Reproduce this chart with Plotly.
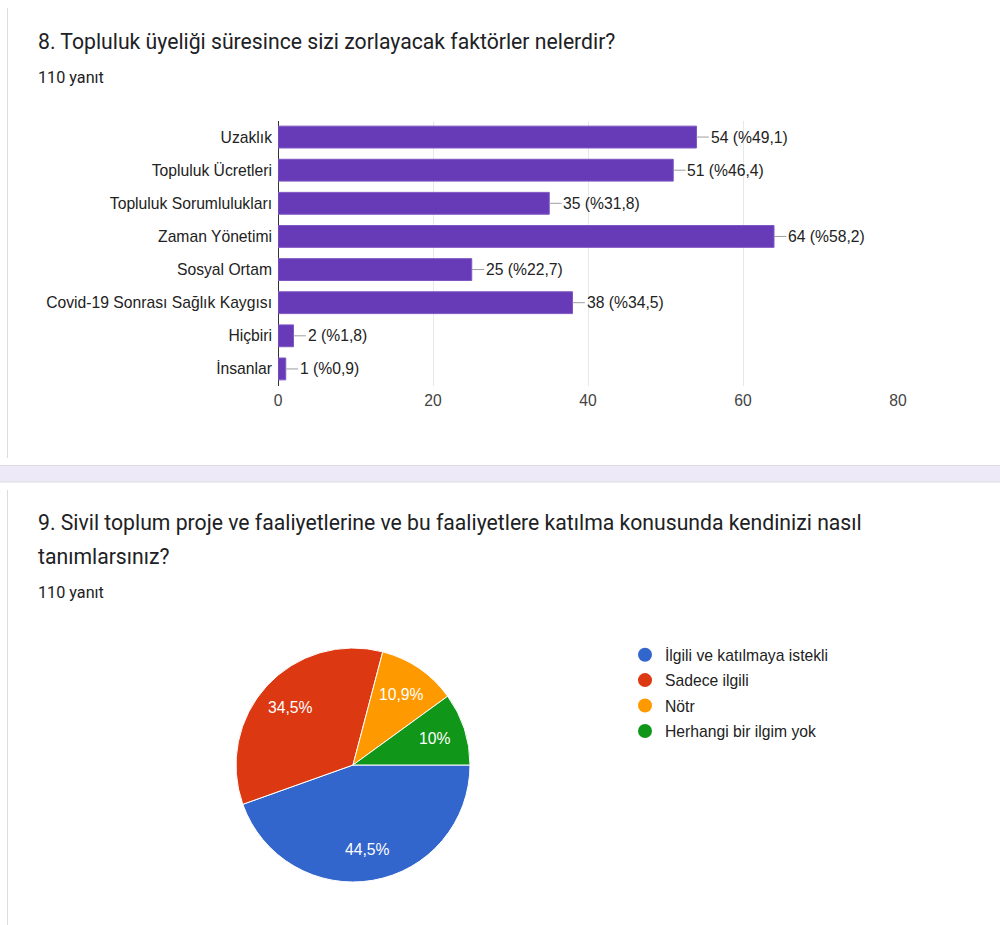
import math
import plotly.graph_objects as go

# ---- Data: question 8 (bar chart) ----
bar_categories = ["Uzaklık", "Topluluk Ücretleri", "Topluluk Sorumlulukları", "Zaman Yönetimi",
                  "Sosyal Ortam", "Covid-19 Sonrası Sağlık Kaygısı", "Hiçbiri", "İnsanlar"]
bar_values = [54, 51, 35, 64, 25, 38, 2, 1]
bar_percent_labels = ["%49,1", "%46,4", "%31,8", "%58,2", "%22,7", "%34,5", "%1,8", "%0,9"]
x_tick_values = [0, 20, 40, 60, 80]

# ---- Data: question 9 (pie chart) ----
pie_labels = ["İlgili ve katılmaya istekli", "Sadece ilgili", "Nötr", "Herhangi bir ilgim yok"]
pie_values = [49, 38, 12, 11]
pie_text = ["44,5%", "34,5%", "10,9%", "10%"]
pie_colors = ["#3366cc", "#dc3912", "#ff9900", "#109618"]

title8 = "8. Topluluk üyeliği süresince sizi zorlayacak faktörler nelerdir?"
title9_lines = ["9. Sivil toplum proje ve faaliyetlerine ve bu faaliyetlere katılma konusunda kendinizi nasıl",
                "tanımlarsınız?"]
responses = "110 yanıt"

W, H = 1000, 925
def py(p):
    return 1 - p / H

CHART_FONT = "Liberation Sans, Arial"
CF = 15.7

fig = go.Figure()

fig.add_trace(go.Bar(
    x=bar_values, y=bar_categories, orientation="h",
    marker=dict(color="#673ab7", line=dict(color="#7e57c2", width=1)),
    width=0.66, showlegend=False, hoverinfo="skip"))

# leader lines
lx, ly = [], []
for c, v in zip(bar_categories, bar_values):
    lx += [v, v + 1.6, None]
    ly += [c, c, None]
fig.add_trace(go.Scatter(x=lx, y=ly, mode="lines", line=dict(color="#9e9e9e", width=1),
                         showlegend=False, hoverinfo="skip"))

for c, v, p in zip(bar_categories, bar_values, bar_percent_labels):
    fig.add_annotation(x=v, y=c, xref="x", yref="y", text=f"{v} ({p})", showarrow=False,
                       xanchor="left", xshift=12, yanchor="middle",
                       font=dict(family=CHART_FONT, size=CF, color="#222222"))

# pie
pie_cx, pie_cy, pie_r = 353, 765, 117
fig.add_trace(go.Pie(
    labels=pie_labels, values=pie_values, textinfo="none",
    marker=dict(colors=pie_colors, line=dict(color="white", width=1)),
    sort=False, direction="clockwise", rotation=90,
    domain=dict(x=[(pie_cx - pie_r) / W, (pie_cx + pie_r) / W],
                y=[py(pie_cy + pie_r), py(pie_cy - pie_r)]),
    showlegend=False, hoverinfo="skip"))

# pie slice labels placed along each slice's bisector
total = sum(pie_values)
cum = 0
for v, t in zip(pie_values, pie_text):
    ang = math.radians((cum + v / 2) / total * 360)  # clockwise from 3 o'clock
    cum += v
    dx = 0.73 * pie_r * math.cos(ang)
    dy = 0.73 * pie_r * math.sin(ang)
    fig.add_annotation(xref="paper", yref="paper", x=(pie_cx + dx) / W, y=py(pie_cy + dy),
                       text=t, showarrow=False, xanchor="center", yanchor="middle",
                       font=dict(family=CHART_FONT, size=CF, color="white"))

# legend entries with circle markers
for i, (lab, col) in enumerate(zip(pie_labels, pie_colors)):
    fig.add_trace(go.Scatter(x=[None], y=[None], mode="markers", name=lab,
                             marker=dict(color=col, size=14, symbol="circle"),
                             legendgroup=f"g{i}", showlegend=True))

# cards & background
shapes = [
    dict(type="rect", xref="paper", yref="paper", x0=0, x1=1, y0=py(482), y1=py(465),
         fillcolor="#ede9f6", line=dict(width=0), layer="below"),
    dict(type="line", xref="paper", yref="paper", x0=0, x1=1, y0=py(465.5), y1=py(465.5),
         line=dict(color="#dcdae3", width=1), layer="below"),
    dict(type="line", xref="paper", yref="paper", x0=0, x1=1, y0=py(482), y1=py(482),
         line=dict(color="#dcdae3", width=1), layer="below"),
    dict(type="line", xref="paper", yref="paper", x0=7.5 / W, x1=7.5 / W, y0=py(458), y1=py(8),
         line=dict(color="#dadce0", width=1), layer="below"),
    dict(type="line", xref="paper", yref="paper", x0=7.5 / W, x1=7.5 / W, y0=py(925), y1=py(490),
         line=dict(color="#dadce0", width=1), layer="below"),
]

title_font = dict(family="Roboto", size=21.2, color="#202124")
small_font = dict(family="Roboto", size=16.2, color="#202124")
annos = [
    dict(x=36 / W, y=py(42), text=title8, font=title_font),
    dict(x=36 / W, y=py(77), text=responses, font=small_font),
    dict(x=36 / W, y=py(522), text=title9_lines[0], font=title_font),
    dict(x=36 / W, y=py(556), text=title9_lines[1], font=title_font),
    dict(x=36 / W, y=py(592), text=responses, font=small_font),
]
for a in annos:
    fig.add_annotation(xref="paper", yref="paper", xanchor="left", yanchor="middle",
                       showarrow=False, **a)

fig.update_layout(
    width=W, height=H, autosize=False,
    margin=dict(l=0, r=0, t=0, b=0, autoexpand=False),
    paper_bgcolor="white", plot_bgcolor="rgba(0,0,0,0)",
    shapes=shapes,
    xaxis=dict(domain=[0.278, 0.898], range=[0, 80], tickvals=x_tick_values,
               showgrid=True, gridcolor="#e8e8e8", gridwidth=1,
               zeroline=True, zerolinecolor="#333333", zerolinewidth=1,
               tickfont=dict(family=CHART_FONT, size=CF, color="#444444"),
               fixedrange=True, ticks="", ticklabelstandoff=4, automargin=False),
    yaxis=dict(domain=[py(385.5), py(120.5)], autorange="reversed", type="category",
               categoryorder="array", categoryarray=bar_categories, fixedrange=True,
               showgrid=False, zeroline=False, ticks="", ticklabelstandoff=5, automargin=False,
               tickfont=dict(family=CHART_FONT, size=CF, color="#222222")),
    bargap=0.34,
    legend=dict(x=0.625, y=py(638), xanchor="left", yanchor="top",
                font=dict(family=CHART_FONT, size=CF, color="#222222"),
                tracegroupgap=2, bgcolor="rgba(0,0,0,0)", itemclick=False),
    showlegend=True,
)

fig.write_html(
    "out.html",
    config={"displayModeBar": False},
    post_script="document.body.style.margin='0';document.body.style.overflow='hidden';",
)
